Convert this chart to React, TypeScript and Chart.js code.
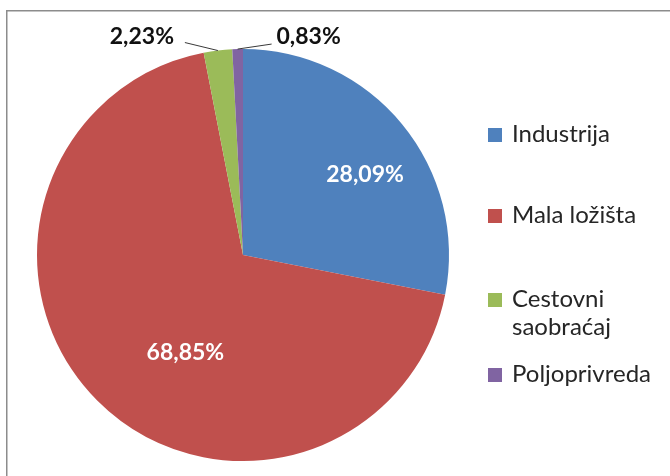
import React, { useEffect, useRef } from "react";
import { Chart, registerables } from "chart.js";

Chart.register(...registerables);

// ---- data ----
const categories = ["Industrija", "Mala ložišta", "Cestovni saobraćaj", "Poljoprivreda"];
const legendLines = [["Industrija"], ["Mala ložišta"], ["Cestovni", "saobraćaj"], ["Poljoprivreda"]];
const values = [28.09, 68.85, 2.23, 0.83];
const valueLabels = ["28,09%", "68,85%", "2,23%", "0,83%"];
const colors = ["#4F81BD", "#C0504D", "#9BBB59", "#8064A2"];

// ---- label / legend styling ----
type LabelStyle =
  | { inside: true; dAngle: number; frac: number }
  | { inside: false; lx: number; ly: number; tx: number; ty: number };
const labelStyles: LabelStyle[] = [
  { inside: true, dAngle: 6, frac: 0.71 },
  { inside: true, dAngle: -14.5, frac: 0.55 },
  { inside: false, lx: -33, ly: -8, tx: -76, ty: -14 },
  { inside: false, lx: 34, ly: -5, tx: 71, ty: -12 },
];
const legendBaselines = [[142], [223], [307, 335], [382]];
const legendX = 488;
const legendTextX = 512;

const framePlugin = {
  id: "frame",
  beforeDraw(chart: any) {
    const ctx = chart.ctx;
    ctx.save();
    ctx.fillStyle = "#ffffff";
    ctx.fillRect(0, 0, chart.width, chart.height);
    ctx.strokeStyle = "#8c8c8c";
    ctx.lineWidth = 1.5;
    ctx.strokeRect(6.75, 10.75, chart.width + 20, chart.height + 20);
    ctx.restore();
  },
};

const labelPlugin = {
  id: "pieLabels",
  afterDatasetsDraw(chart: any) {
    const ctx = chart.ctx;
    const meta = chart.getDatasetMeta(0);
    meta.data.forEach((arc: any, i: number) => {
      const { x, y, startAngle, endAngle, outerRadius } = arc.getProps(
        ["x", "y", "startAngle", "endAngle", "outerRadius"],
        true
      );
      const mid = (startAngle + endAngle) / 2;
      const s = labelStyles[i];
      ctx.save();
      ctx.font = "bold 23px Lato";
      ctx.textAlign = "center";
      ctx.textBaseline = "middle";
      if (s.inside) {
        const a = mid + (s.dAngle * Math.PI) / 180;
        const r = outerRadius * s.frac;
        ctx.fillStyle = "#ffffff";
        ctx.fillText(valueLabels[i], x + r * Math.cos(a), y + r * Math.sin(a));
      } else {
        const ex = x + outerRadius * Math.cos(mid);
        const ey = y + outerRadius * Math.sin(mid);
        ctx.strokeStyle = "#3a3a3a";
        ctx.lineWidth = 1;
        ctx.beginPath();
        ctx.moveTo(ex, ey);
        ctx.lineTo(ex + s.lx, ey + s.ly);
        ctx.stroke();
        ctx.fillStyle = "#111111";
        ctx.fillText(valueLabels[i], ex + s.tx, ey + s.ty);
      }
      ctx.restore();
    });
  },
};

const legendPlugin = {
  id: "customLegend",
  afterDraw(chart: any) {
    const ctx = chart.ctx;
    const ds = chart.data.datasets[0];
    ctx.save();
    ctx.font = "24px Lato";
    ctx.textAlign = "left";
    ctx.textBaseline = "alphabetic";
    legendLines.forEach((lines, i) => {
      const bases = legendBaselines[i];
      ctx.fillStyle = ds.backgroundColor[i];
      ctx.fillRect(legendX, bases[0] - 14, 14, 14);
      ctx.fillStyle = "#262626";
      lines.forEach((t, j) => ctx.fillText(t, legendTextX, bases[j]));
    });
    ctx.restore();
  },
};

export default function App() {
  const ref = useRef<HTMLCanvasElement | null>(null);
  useEffect(() => {
    if (!ref.current) return;
    const chart = new Chart(ref.current, {
      type: "pie",
      data: {
        labels: categories,
        datasets: [
          {
            data: values,
            backgroundColor: colors,
            borderWidth: 0,
          },
        ],
      },
      options: {
        responsive: false,
        animation: false,
        layout: { padding: { left: 37, right: 221, top: 49, bottom: 15 } },
        plugins: {
          legend: { display: false },
          tooltip: { enabled: false },
        },
      },
      plugins: [framePlugin, labelPlugin, legendPlugin],
    });
    return () => chart.destroy();
  }, []);
  return (
    <div style={{ position: "fixed", left: 0, top: 0, width: 670, height: 476, overflow: "hidden", background: "#fff" }}>
      <canvas ref={ref} width={670} height={476} style={{ display: "block", width: 670, height: 476 }} />
    </div>
  );
}
